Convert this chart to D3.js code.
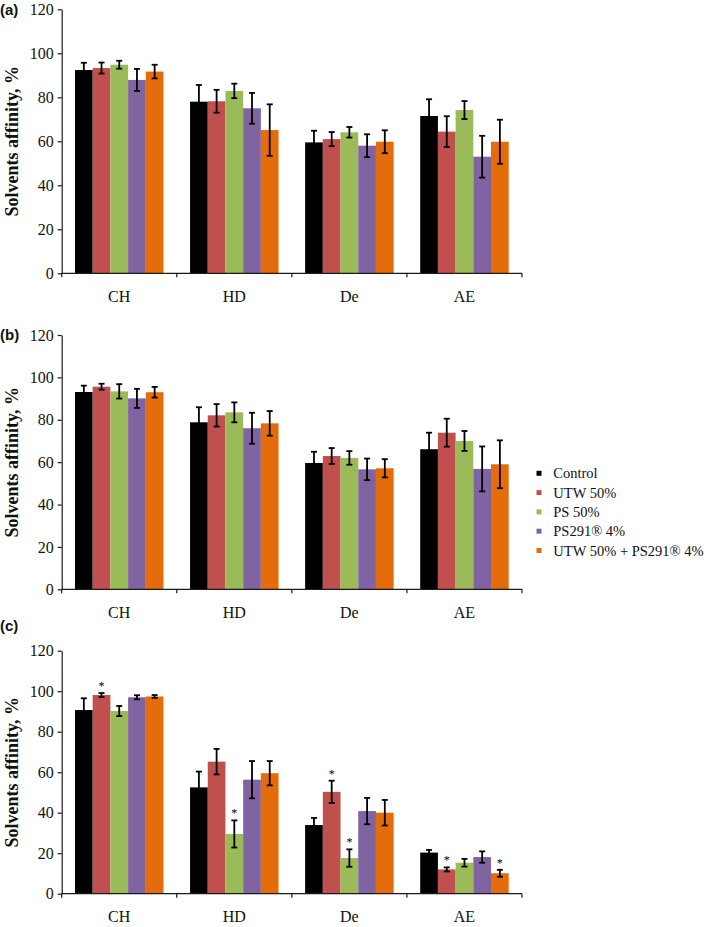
<!DOCTYPE html>
<html><head><meta charset="utf-8">
<script src="https://cdn.jsdelivr.net/npm/d3@7"></script>
<style>body{margin:0;background:#fff}svg{display:block}</style>
</head><body>
<script>
const categories = ["CH", "HD", "De", "AE"];
const seriesNames = ["Control", "UTW 50%", "PS 50%", "PS291® 4%", "UTW 50% + PS291® 4%"];
const seriesColors = ["#000000", "#c0504d", "#9bbb59", "#8064a2", "#e46c0a"];
const yTicks = [0, 20, 40, 60, 80, 100, 120];

// rows = series, columns = categories
const meansA = [
  [92.4, 78.0, 59.5, 71.5],
  [93.3, 78.2, 61.0, 64.4],
  [94.8, 82.9, 64.1, 74.2],
  [87.9, 75.0, 58.0, 53.0],
  [91.7, 65.1, 59.8, 59.8]
];
const errA = [
  [3.3, 7.6, 5.3, 7.6],
  [2.5, 5.2, 3.2, 7.0],
  [1.8, 3.3, 2.4, 4.1],
  [5.0, 7.0, 5.2, 9.5],
  [3.1, 11.7, 5.2, 10.0]
];
const meansB = [
  [93.1, 78.8, 59.6, 66.1],
  [95.6, 82.1, 62.9, 73.9],
  [93.4, 83.5, 62.0, 70.0],
  [90.1, 76.0, 56.6, 56.8],
  [93.0, 78.3, 57.1, 59.0]
];
const errB = [
  [3.0, 7.1, 5.3, 7.8],
  [1.4, 5.3, 3.75, 6.6],
  [3.4, 4.7, 3.2, 4.7],
  [4.5, 7.3, 5.1, 10.6],
  [2.5, 5.8, 4.3, 11.3]
];
const meansC = [
  [90.7, 52.5, 33.9, 20.3],
  [98.1, 65.2, 50.3, 12.0],
  [90.2, 29.5, 17.6, 15.3],
  [97.0, 56.3, 40.8, 18.1],
  [97.4, 59.5, 40.0, 10.1]
];
const errC = [
  [5.8, 7.8, 3.5, 1.3],
  [1.0, 6.3, 5.5, 1.0],
  [2.5, 6.7, 4.3, 1.9],
  [1.0, 9.2, 6.5, 2.8],
  [0.7, 6.0, 6.3, 1.7]
];
// significance marks: [series index, category index]
const starsA = [];
const starsB = [];
const starsC = [[1, 0], [2, 1], [1, 2], [2, 2], [1, 3], [4, 3]];

const W = 709, H = 927;
const svg = d3.select("body").append("svg").attr("width", W).attr("height", H);

const serif = "'Liberation Serif','Times New Roman',serif";
const sans = "'Liberation Sans',Arial,sans-serif";
const axisColor = "#1a1a1a";

const x0 = d3.scaleBand().domain(categories).range([61.7, 522]).padding(0);
const x1 = d3.scaleBand().domain(d3.range(seriesNames.length))
  .range([0, x0.bandwidth()]).paddingInner(0).paddingOuter(0.75);

const panels = [
  {label: "(a)", top: 9.3, bottom: 273.3, labelY: 9.3, means: meansA, errs: errA, stars: starsA},
  {label: "(b)", top: 335, bottom: 589.3, labelY: 335, means: meansB, errs: errB, stars: starsB},
  {label: "(c)", top: 650.7, bottom: 893.7, labelY: 626, means: meansC, errs: errC, stars: starsC}
];

panels.forEach(p => {
  const y = d3.scaleLinear().domain([0, 120]).range([p.bottom, p.top]);
  const g = svg.append("g");

  // bars
  p.means.forEach((row, si) => {
    g.selectAll(null).data(row.map((v, ci) => ({v, ci}))).enter().append("rect")
      .attr("x", d => x0(categories[d.ci]) + x1(si))
      .attr("width", x1.bandwidth())
      .attr("y", d => y(d.v))
      .attr("height", d => y(0) - y(d.v))
      .attr("fill", seriesColors[si]);
  });

  // error bars
  const capW = 3;
  p.means.forEach((row, si) => {
    row.forEach((v, ci) => {
      const e = p.errs[si][ci];
      const cx = x0(categories[ci]) + x1(si) + x1.bandwidth() / 2;
      const eg = g.append("g").attr("stroke", "#000").attr("stroke-width", 1.8);
      eg.append("line").attr("x1", cx).attr("x2", cx).attr("y1", y(v + e)).attr("y2", y(v - e));
      eg.append("line").attr("x1", cx - capW).attr("x2", cx + capW).attr("y1", y(v + e)).attr("y2", y(v + e));
      eg.append("line").attr("x1", cx - capW).attr("x2", cx + capW).attr("y1", y(v - e)).attr("y2", y(v - e));
    });
  });

  // stars
  p.stars.forEach(([si, ci]) => {
    const v = p.means[si][ci], e = p.errs[si][ci];
    const cx = x0(categories[ci]) + x1(si) + x1.bandwidth() / 2;
    g.append("text").attr("x", cx).attr("y", y(v + e) - 3)
      .attr("text-anchor", "middle").attr("font-family", serif).attr("font-size", 12)
      .attr("fill", "#000").text("*");
  });

  // y axis
  const yAxis = d3.axisLeft(y).tickValues(yTicks).tickSize(4).tickPadding(4).tickSizeOuter(0);
  const ya = g.append("g").attr("transform", "translate(61.7,0)").call(yAxis);
  ya.select(".domain").attr("stroke", axisColor).attr("stroke-width", 1.2);
  ya.selectAll(".tick line").attr("stroke", axisColor).attr("stroke-width", 1.2);
  ya.selectAll(".tick text").attr("font-family", serif).attr("font-size", 16).attr("fill", "#111");

  // x axis
  const xa = g.append("g").attr("transform", `translate(0,${p.bottom})`);
  xa.append("line").attr("x1", 61.7).attr("x2", 522).attr("stroke", axisColor).attr("stroke-width", 1.2);
  const bounds = categories.map(c => x0(c)).concat([x0(categories[categories.length - 1]) + x0.bandwidth()]);
  xa.selectAll(null).data(bounds).enter().append("line")
    .attr("x1", d => d).attr("x2", d => d).attr("y1", 0).attr("y2", 4)
    .attr("stroke", axisColor).attr("stroke-width", 1.2);
  xa.selectAll(null).data(categories).enter().append("text")
    .attr("x", d => x0(d) + x0.bandwidth() / 2).attr("y", 28.5)
    .attr("text-anchor", "middle").attr("font-family", serif).attr("font-size", 16)
    .attr("fill", "#111").text(d => d);

  // y title
  g.append("text")
    .attr("transform", `translate(18,${(p.top + p.bottom) / 2}) rotate(-90)`)
    .attr("text-anchor", "middle").attr("font-family", serif).attr("font-weight", "bold")
    .attr("font-size", 18).attr("fill", "#111").text("Solvents affinity, %");

  // panel label
  g.append("text").attr("x", 0).attr("y", p.labelY).attr("dy", "0.36em")
    .attr("font-family", sans).attr("font-weight", "bold").attr("font-size", 15)
    .attr("fill", "#111").text(p.label);
});

// legend
const legendY0 = 473.3, legendStep = 19.3;
const lg = svg.append("g");
seriesNames.forEach((name, i) => {
  const cy = legendY0 + i * legendStep;
  lg.append("rect").attr("x", 536.5).attr("y", cy - 2.5).attr("width", 5).attr("height", 5).attr("fill", seriesColors[i]);
  lg.append("text").attr("x", 553.3).attr("y", cy).attr("dy", "0.35em")
    .attr("font-family", serif).attr("font-size", 14.5).attr("fill", "#111").text(name);
});
</script>
</body></html>
